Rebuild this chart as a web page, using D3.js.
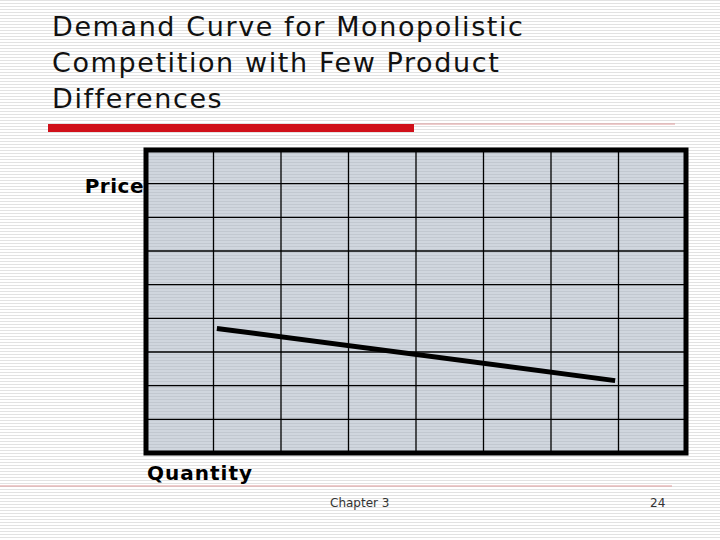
<!DOCTYPE html>
<html><head><meta charset="utf-8">
<script src="https://cdnjs.cloudflare.com/ajax/libs/d3/7.8.5/d3.min.js"></script>
<style>body{margin:0;background:#fff}</style></head>
<body><svg id="c" width="720" height="540"></svg>
<script>
const titleLines = ["Demand Curve for Monopolistic","Competition with Few Product","Differences"];
const xCols = 8, yRows = 9;
const curveQ = [1.05, 6.95];
const curveP = [3.7, 2.15];
const xLabel = "Quantity", yLabel = "Price";
const footer = "Chapter 3", pageNum = "24";

const svg = d3.select("#c");
const defs = svg.append("defs");
const pat = defs.append("pattern").attr("id","stripe").attr("width",4).attr("height",3).attr("patternUnits","userSpaceOnUse");
pat.append("rect").attr("width",4).attr("height",3).attr("fill","#fff");
pat.append("rect").attr("width",4).attr("height",1).attr("fill","#e2e2e2");
const pat2 = defs.append("pattern").attr("id","stripe2").attr("width",4).attr("height",3).attr("patternUnits","userSpaceOnUse");
pat2.append("rect").attr("width",4).attr("height",3).attr("fill","#d0d6de");
pat2.append("rect").attr("width",4).attr("height",1).attr("fill","#c2c8d0");
svg.append("rect").attr("width",720).attr("height",540).attr("fill","url(#stripe)");

svg.selectAll("text.t").data(titleLines).join("text")
  .attr("x",52).attr("y",(d,i)=>36+i*36).attr("font-family","DejaVu Sans").attr("font-size",27)
  .attr("letter-spacing",1.6).attr("fill","#111").text(d=>d);
svg.append("line").attr("x1",414).attr("x2",675).attr("y1",124).attr("y2",124).attr("stroke","#d99").attr("stroke-width",1);
svg.append("rect").attr("x",48).attr("y",124).attr("width",366).attr("height",8).attr("fill","#d0101a");
svg.append("line").attr("x1",0).attr("x2",672).attr("y1",486).attr("y2",486).attr("stroke","#d99").attr("stroke-width",1);

const L=146,R=686,T=150,B=453;
const x = d3.scaleLinear().domain([0,xCols]).range([L,R]);
const y = d3.scaleLinear().domain([0,yRows]).range([B,T]);
svg.append("rect").attr("x",L).attr("y",T).attr("width",R-L).attr("height",B-T).attr("fill","url(#stripe2)");
const g = svg.append("g");
g.selectAll("line.v").data(d3.range(1,xCols)).join("line").attr("x1",d=>x(d)).attr("x2",d=>x(d)).attr("y1",T).attr("y2",B).attr("stroke","#000").attr("stroke-width",1.3);
g.selectAll("line.h").data(d3.range(1,yRows)).join("line").attr("y1",d=>y(d)).attr("y2",d=>y(d)).attr("x1",L).attr("x2",R).attr("stroke","#000").attr("stroke-width",1.3);
svg.append("rect").attr("x",L).attr("y",T).attr("width",R-L).attr("height",B-T).attr("fill","none").attr("stroke","#000").attr("stroke-width",5);

svg.append("path").datum(d3.zip(curveQ,curveP)).attr("d",d3.line().x(d=>x(d[0])).y(d=>y(d[1])))
  .attr("stroke","#000").attr("stroke-width",5).attr("fill","none");

svg.append("text").attr("x",144).attr("y",193).attr("text-anchor","end").attr("font-family","DejaVu Sans").attr("font-weight","bold").attr("font-size",20).attr("letter-spacing",0.5).text(yLabel);
svg.append("text").attr("x",147).attr("y",480).attr("font-family","DejaVu Sans").attr("font-weight","bold").attr("font-size",20).attr("letter-spacing",1).text(xLabel);
svg.append("text").attr("x",330).attr("y",507).attr("font-family","DejaVu Sans").attr("font-size",12).attr("fill","#333").text(footer);
svg.append("text").attr("x",650).attr("y",507).attr("font-family","DejaVu Sans").attr("font-size",12).attr("fill","#333").text(pageNum);
</script></body></html>
